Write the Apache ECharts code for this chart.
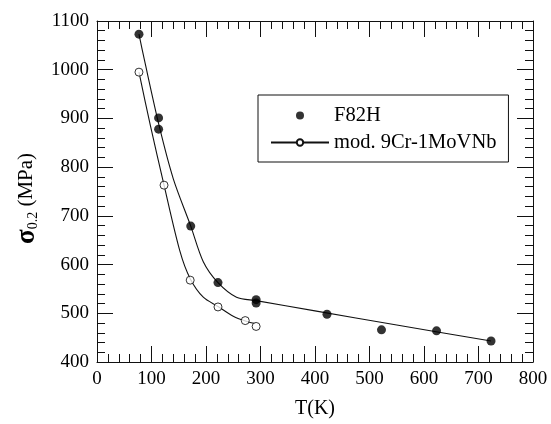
<!DOCTYPE html>
<html>
<head>
<meta charset="utf-8">
<script src="https://cdn.jsdelivr.net/npm/echarts@6/dist/echarts.min.js"></script>
<style>
html,body{margin:0;padding:0;background:#fff;}
#c{width:551px;height:424px;}
</style>
</head>
<body>
<div id="c"></div>
<script>
// Measured data points
const f82hT = [77, 113, 113, 172, 222, 292, 292, 422, 522, 623, 723];
const f82hS = [1073, 901, 878, 679, 563, 528, 521, 498, 466, 464, 443];
const modT = [77, 123, 171, 222, 272, 292];
const modS = [995, 763, 568, 513, 485, 473];
// Fitted curves
const f82hFitT = [77, 87, 114, 140, 172, 195, 222, 256, 292, 400, 550, 723];
const f82hFitS = [1073, 1020, 885, 776, 679, 606, 563, 533, 526, 505, 476, 443];
const modFitT = [77, 98, 123, 152, 171, 195, 222, 250, 275, 290];
const modFitS = [995, 885, 763, 628, 571, 533, 514, 494, 483, 479];
// Axis settings
const xTicks = [0, 100, 200, 300, 400, 500, 600, 700, 800];
const yTicks = [400, 500, 600, 700, 800, 900, 1000, 1100];

const FONT = '"Liberation Serif", "Times New Roman", serif';
const zip = (a, b) => a.map((v, i) => [v, b[i]]);

function axisBase(show) {
  return {
    axisLine: {show: true, onZero: false, lineStyle: {color: '#111', width: 1}},
    axisTick: {show: true, inside: true, length: 16, lineStyle: {color: '#111', width: 1}},
    minorTick: {show: true, splitNumber: 5, length: 8, lineStyle: {color: '#111', width: 1}},
    splitLine: {show: false},
    axisLabel: {show: show, color: '#000', fontFamily: FONT, fontSize: 19, formatter: v => String(v)}
  };
}

const chart = echarts.init(document.getElementById('c'), null, {renderer: 'canvas'});
chart.setOption({
  animation: false,
  backgroundColor: '#fff',
  grid: {left: 97, right: 18, top: 21, bottom: 59, containLabel: false},
  xAxis: [
    Object.assign(axisBase(true), {
      type: 'value', min: xTicks[0], max: xTicks[xTicks.length - 1], interval: 100,
      position: 'bottom',
      name: 'T(K)', nameLocation: 'middle', nameGap: 37,
      nameTextStyle: {color: '#000', fontFamily: FONT, fontSize: 20}
    }),
    Object.assign(axisBase(false), {
      type: 'value', min: xTicks[0], max: xTicks[xTicks.length - 1], interval: 100,
      position: 'top'
    })
  ],
  yAxis: [
    Object.assign(axisBase(true), {
      type: 'value', min: yTicks[0], max: yTicks[yTicks.length - 1], interval: 100,
      position: 'left',
      name: '{s|σ}{sub|0.2}{n| (MPa)}', nameLocation: 'middle', nameGap: 56, nameRotate: 90,
      nameTextStyle: {
        color: '#000', fontFamily: FONT, fontSize: 21, padding: [0, 0, 0, -14],
        rich: {
          s: {fontFamily: FONT, fontSize: 27, fontWeight: 'bold', color: '#000'},
          sub: {fontFamily: FONT, fontSize: 14, color: '#000', verticalAlign: 'bottom', padding: [10, 0, 0, 0]},
          n: {fontFamily: FONT, fontSize: 21, color: '#000'}
        }
      }
    }),
    Object.assign(axisBase(false), {
      type: 'value', min: yTicks[0], max: yTicks[yTicks.length - 1], interval: 100,
      position: 'right'
    })
  ],
  legend: {
    orient: 'vertical', left: 258, top: 95,
    padding: [10, 12, 9, 12],
    itemWidth: 58, itemHeight: 8, itemGap: 6, itemTextGap: 5,
    borderColor: '#111', borderWidth: 1, backgroundColor: '#fff',
    selectedMode: false,
    textStyle: {color: '#000', fontFamily: FONT, fontSize: 20.5},
    data: ['F82H', 'mod. 9Cr-1MoVNb']
  },
  series: [
    {
      name: 'F82H fit', type: 'line', data: zip(f82hFitT, f82hFitS),
      smooth: 0.3, showSymbol: false, symbol: 'none',
      lineStyle: {color: '#111', width: 1.1}, z: 2
    },
    {
      name: 'mod. 9Cr-1MoVNb', type: 'line', data: zip(modFitT, modFitS),
      smooth: 0.3, showSymbol: false, symbol: 'emptyCircle', symbolSize: 6,
      itemStyle: {color: '#111', borderColor: '#111', borderWidth: 1},
      lineStyle: {color: '#111', width: 1.1}, z: 2
    },
    {
      name: 'F82H', type: 'scatter', data: zip(f82hT, f82hS),
      symbol: 'circle', symbolSize: 9, itemStyle: {color: '#000'}, z: 5
    },
    {
      name: 'mod. 9Cr-1MoVNb pts', type: 'scatter', data: zip(modT, modS),
      symbol: 'circle', symbolSize: 8,
      itemStyle: {color: '#fff', borderColor: '#000', borderWidth: 1}, z: 5
    }
  ]
});
</script>
</body>
</html>
